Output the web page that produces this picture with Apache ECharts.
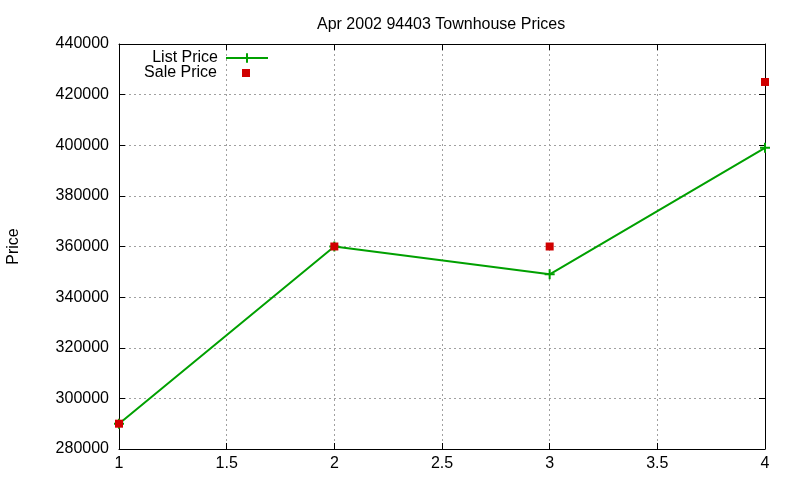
<!DOCTYPE html>
<html><head><meta charset="utf-8">
<script src="https://cdn.jsdelivr.net/npm/echarts@6/dist/echarts.min.js"></script>
<style>html,body{margin:0;padding:0;background:#fff}#c{width:800px;height:480px}</style>
</head><body><div id="c"></div>
<script>
const xValues = [1, 2, 3, 4];
const listPrice = [290000, 360000, 349000, 399000];
const salePrice = [290000, 360000, 360000, 425000];
const titleText = 'Apr 2002 94403 Townhouse Prices';
const yName = 'Price';

const plus = 'path://M0,5L10,5M5,0L5,10';
const font = 'Liberation Sans, Arial, sans-serif';
const fs = 16;
const chart = echarts.init(document.getElementById('c'));
const axisCommon = {
  axisLine: {show: true, lineStyle: {color: '#000', width: 1}},
  axisTick: {show: true, inside: true, length: 6, lineStyle: {color: '#000'}},
  splitLine: {show: false}
};
chart.setOption({
  animation: false,
  title: {text: titleText, left: 312, top: 12, textStyle: {fontFamily: font, fontSize: fs, fontWeight: 'normal', color: '#000'}},
  legend: [
    {data: [{name: 'List Price'}], orient: 'vertical', align: 'right', right: 526, top: 45, itemWidth: 42, itemHeight: 12,
     textStyle: {fontFamily: font, fontSize: fs, color: '#000', padding: [0, 3, 0, 0]}},
    {data: [{name: 'Sale Price', icon: 'rect'}], orient: 'vertical', align: 'right', right: 545, top: 60, itemWidth: 8, itemHeight: 8,
     textStyle: {fontFamily: font, fontSize: fs, color: '#000', padding: [0, 20, 0, 0]}}
  ],
  grid: {left: 119, right: 35, top: 44, bottom: 31, containLabel: false, outerBoundsMode: 'none'},
  xAxis: [
    Object.assign({type: 'value', min: 1, max: 4, interval: 0.5,
      axisLabel: {fontFamily: font, fontSize: fs, color: '#000', margin: 7},
      splitLine: {show: true, lineStyle: {color: '#a0a0a0', type: [2, 3], width: 1}}}, {
      axisLine: axisCommon.axisLine, axisTick: axisCommon.axisTick}),
    Object.assign({type: 'value', position: 'top', min: 1, max: 4, interval: 0.5, axisLabel: {show: false}}, axisCommon)
  ],
  yAxis: [
    Object.assign({type: 'value', min: 280000, max: 440000, interval: 20000, name: yName, nameLocation: 'middle', nameGap: 97,
      nameTextStyle: {fontFamily: font, fontSize: fs, color: '#000'},
      axisLabel: {fontFamily: font, fontSize: fs, color: '#000', margin: 10, formatter: v => String(v)},
      splitLine: {show: true, lineStyle: {color: '#a0a0a0', type: [2, 3], width: 1}}}, {
      axisLine: axisCommon.axisLine, axisTick: axisCommon.axisTick}),
    Object.assign({type: 'value', position: 'right', min: 280000, max: 440000, interval: 20000, axisLabel: {show: false}}, axisCommon)
  ],
  series: [
    {name: 'List Price', type: 'line', data: xValues.map((x, i) => [x, listPrice[i]]),
     symbol: plus, symbolSize: 10, showAllSymbol: true,
     lineStyle: {color: '#00a000', width: 2}, itemStyle: {color: '#00a000', borderColor: '#00a000', borderWidth: 2}, z: 3},
    {name: 'Sale Price', type: 'scatter', data: xValues.map((x, i) => [x, salePrice[i]]),
     symbol: 'rect', symbolSize: 8, itemStyle: {color: '#d00000', opacity: 1}, z: 4}
  ]
});
</script></body></html>
